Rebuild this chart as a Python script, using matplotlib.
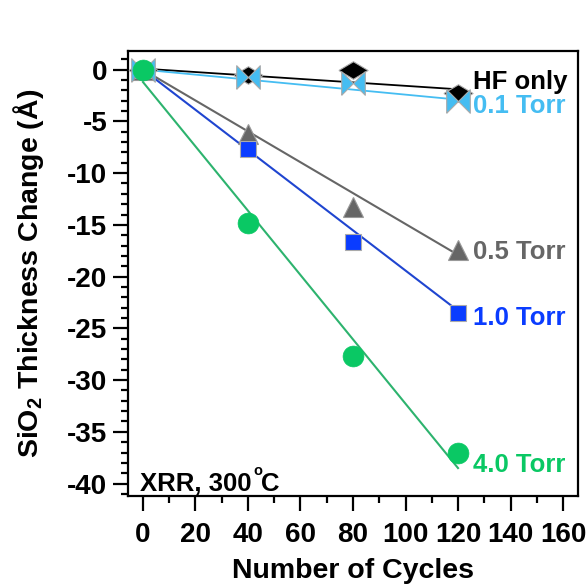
import numpy as np
import matplotlib
matplotlib.use("Agg")
import matplotlib.pyplot as plt
from matplotlib.ticker import MultipleLocator

plt.rcParams['font.family'] = ['Liberation Sans', 'DejaVu Sans']
plt.rcParams['font.weight'] = 'bold'
plt.rcParams['axes.unicode_minus'] = False

cycles = [0, 40, 80, 120]
hf_only = [0.0, -0.5, 0.0, -2.3]
torr_01 = [0.0, -0.7, -1.3, -3.0]
torr_05 = [0.0, -6.2, -13.3, -17.4]
torr_10 = [0.0, -7.7, -16.7, -23.5]
torr_40 = [0.0, -14.8, -27.7, -37.0]

fit_x = [0, 120]
fit_hf = [0.1, -1.9]
fit_01 = [0.0, -2.9]
fit_05 = [0.0, -17.9]
fit_10 = [0.0, -23.3]
fit_40 = [-1.2, -38.5]

labels = ["HF only", "0.1 Torr", "0.5 Torr", "1.0 Torr", "4.0 Torr"]
label_y = [-1.15, -3.5, -17.6, -24.0, -38.2]
label_x = 125.7

c_hf = '#000000'
c_01 = '#45bdf2'
c_05 = '#666666'
c_10 = '#0a3cff'
c_40 = '#0ac864'
line_10 = '#1f45d0'
line_40 = '#2db36e'

diamond = [(-1, 0), (0, 0.6), (1, 0), (0, -0.6), (-1, 0)]
bowtie = [(-1, -1), (-1, 1), (0, 0), (1, 1), (1, -1), (0, 0), (-1, -1)]

fig = plt.figure(figsize=(5.87, 5.85), dpi=100)
ax = fig.add_axes([128/587, 1-496/585, 450/587, 445/585])

ax.plot(fit_x, fit_hf, color=c_hf, lw=1.3, zorder=2)
ax.plot(fit_x, fit_01, color=c_01, lw=1.3, zorder=2)
ax.plot(fit_x, fit_05, color=c_05, lw=1.5, zorder=2)
ax.plot(fit_x, fit_10, color=line_10, lw=1.5, zorder=2)
ax.plot(fit_x, fit_40, color=line_40, lw=1.5, zorder=2)

ax.plot(cycles, hf_only, ls='none', marker=diamond, ms=21, color=c_hf, mec='#aaaaaa', mew=0.8, zorder=3)
ax.plot(cycles, torr_01, ls='none', marker=bowtie, ms=17, color=c_01, mec='#aaaaaa', mew=0.8, zorder=3)
ax.plot(cycles, torr_05, ls='none', marker='^', ms=14, color=c_05, mec='#999999', mew=0.8, zorder=3)
ax.plot(cycles, torr_10, ls='none', marker='s', ms=11.5, color=c_10, mec='#aaaaaa', mew=0.8, zorder=3)
ax.plot(cycles, torr_40, ls='none', marker='o', ms=15, color=c_40, mec=c_40, mew=0.5, zorder=4)

for lab, yv, col in zip(labels, label_y, [c_hf, c_01, c_05, c_10, c_40]):
    ax.text(label_x, yv, lab, color=col, fontsize=18.5, fontweight='bold', ha='left', va='center')

t = ax.text(0.027, 0.012, "XRR, 300", transform=ax.transAxes,
            fontsize=18.5, fontweight='bold', ha='left', va='baseline')
fig.canvas.draw()
bb = t.get_window_extent().transformed(ax.transAxes.inverted())
ax.text(bb.x1 + 0.004, 0.047, "o", transform=ax.transAxes, fontsize=10.5,
        fontweight='bold', ha='left', va='baseline')
ax.text(bb.x1 + 0.021, 0.012, "C", transform=ax.transAxes,
        fontsize=18.5, fontweight='bold', ha='left', va='baseline')

ax.set_xlim(-5.7, 165.7)
ax.set_ylim(-41.2, 1.8)
ax.xaxis.set_major_locator(MultipleLocator(20))
ax.xaxis.set_minor_locator(MultipleLocator(10))
ax.yaxis.set_major_locator(MultipleLocator(5))
ax.yaxis.set_minor_locator(MultipleLocator(1))
ax.tick_params(which='major', direction='out', length=11, width=1.6, labelsize=20, pad=4)
ax.tick_params(axis='x', which='major', pad=8)
ax.tick_params(which='minor', direction='out', length=5, width=1.6)
for lab in ax.get_xticklabels() + ax.get_yticklabels():
    lab.set_fontweight('bold')
for s in ax.spines.values():
    s.set_linewidth(1.6)

ax.set_xlabel("Number of Cycles", fontsize=20.5, fontweight='bold', labelpad=7)
ax.set_ylabel("SiO$_\\mathregular{2}$ Thickness Change (Å)", fontsize=20.5, fontweight='bold', labelpad=15)

fig.savefig("out.png", dpi=100)
